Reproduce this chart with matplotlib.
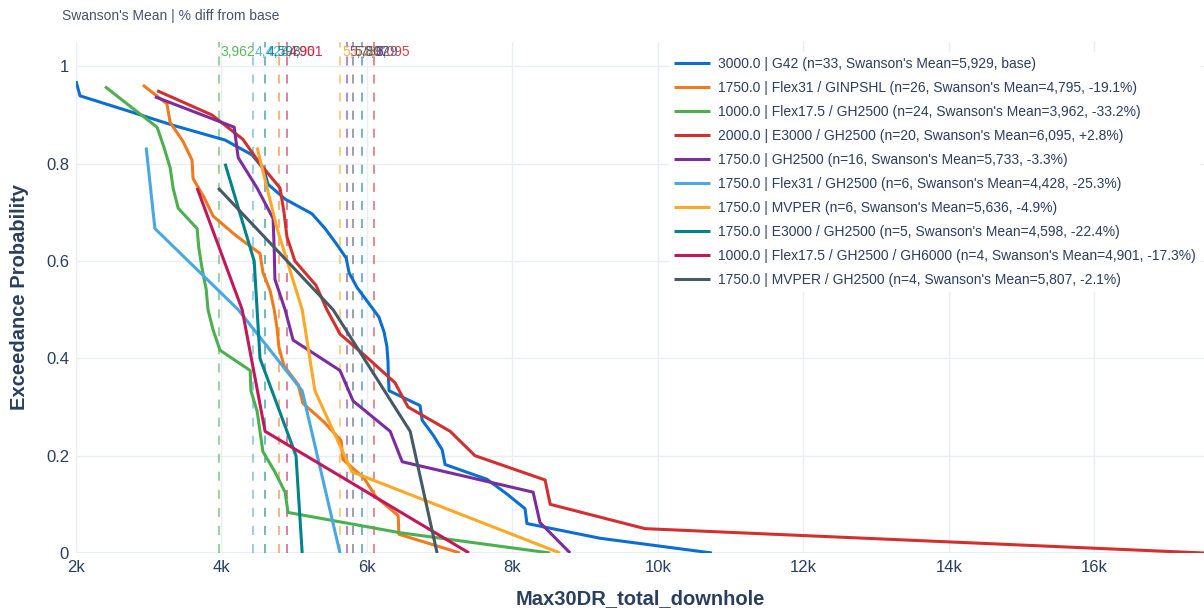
import matplotlib
matplotlib.use("Agg")
import matplotlib.pyplot as plt
from matplotlib.ticker import FixedLocator, FuncFormatter

plt.rcParams['font.family'] = ['Liberation Sans', 'DejaVu Sans']
plt.rcParams['lines.scale_dashes'] = False

# ---- data -------------------------------------------------------------
groups = [
    "3000.0 | G42",
    "1750.0 | Flex31 / GINPSHL",
    "1000.0 | Flex17.5 / GH2500",
    "2000.0 | E3000 / GH2500",
    "1750.0 | GH2500",
    "1750.0 | Flex31 / GH2500",
    "1750.0 | MVPER",
    "1750.0 | E3000 / GH2500",
    "1000.0 | Flex17.5 / GH2500 / GH6000",
    "1750.0 | MVPER / GH2500",
]

swanson_means = [5929, 4795, 3962, 6095, 5733, 4428, 5636, 4598, 4901, 5807]
pct_diff = ["base", "-19.1%", "-33.2%", "+2.8%", "-3.3%", "-25.3%", "-4.9%",
            "-22.4%", "-17.3%", "-2.1%"]

g42 = [2000, 2055, 2700, 3335, 4050, 4420, 4585, 4640, 4875, 5245, 5425,
       5575, 5715, 5755, 5865, 6015, 6165, 6235, 6275, 6290, 6295, 6305,
       6730, 6760, 6910, 7035, 7075, 7650, 7925, 8175, 8200, 9205, 10745]
flex31_ginpshl = [2920, 3250, 3295, 3470, 3595, 3610, 3760, 3885, 4185, 4530,
                  4570, 4670, 4725, 4765, 4790, 4860, 5055, 5120, 5410, 5645,
                  5670, 5960, 6125, 6430, 6440, 7280]
flex175_gh2500 = [2400, 2755, 3115, 3210, 3295, 3335, 3405, 3665, 3690, 3735,
                  3790, 3815, 3885, 3980, 4395, 4405, 4490, 4530, 4570, 4735,
                  4875, 4915, 6455, 8520]
e3000_gh2500_2000 = [3115, 3870, 4295, 4530, 4805, 4860, 4900, 5010, 5300,
                     5450, 5630, 6015, 6385, 6565, 7145, 7485, 8450, 8520,
                     9825, 17510]
gh2500 = [3085, 4175, 4230, 4490, 4710, 4725, 4735, 4875, 4985, 5630, 5810,
          6320, 6485, 8285, 8380, 8795]
flex31_gh2500 = [2965, 3085, 4230, 5110, 5370, 5630]
mvper = [4490, 4765, 5110, 5285, 5795, 8655]
e3000_gh2500_1750 = [4050, 4450, 4530, 5025, 5110]
flex175_gh2500_gh6000 = [3665, 4285, 4600, 7405]
mvper_gh2500 = [3955, 5535, 6595, 6965]

series = [g42, flex31_ginpshl, flex175_gh2500, e3000_gh2500_2000, gh2500,
          flex31_gh2500, mvper, e3000_gh2500_1750, flex175_gh2500_gh6000,
          mvper_gh2500]

colors = ["#0a6fd0", "#f07a1e", "#4caf50", "#d32f2f", "#7b2d9e",
          "#4aa8e0", "#ffa726", "#00838a", "#c2185b", "#455a64"]

x_ticks = [2000, 4000, 6000, 8000, 10000, 12000, 14000, 16000]
y_ticks = [0, 0.2, 0.4, 0.6, 0.8, 1.0]

# ---- figure -----------------------------------------------------------
W, H = 1204, 612
fig = plt.figure(figsize=(W / 100, H / 100), dpi=100)
fig.patch.set_facecolor("white")
ax = fig.add_axes([76 / W, (H - 553) / H, (W - 76) / W, (553 - 42) / H])
ax.set_facecolor("white")

text_col = "#2a3f5f"
title_col = "#44536b"
grid_col = "#e9eef6"

all_vals = [v for s in series for v in s]
ax.set_xlim(min(all_vals), max(all_vals))
ax.set_ylim(0, 1.05)

# exceedance curves
for name, vals, mean, pct, col in zip(groups, series, swanson_means, pct_diff, colors):
    xs = sorted(vals)
    n = len(xs)
    ps = [(n - 1 - i) / n for i in range(n)]
    label = f"{name} (n={n}, Swanson's Mean={mean:,}, {pct})"
    ax.plot(xs, ps, color=col, lw=2.2, label=label, zorder=3,
            solid_joinstyle="round", solid_capstyle="butt")

# Swanson's mean markers
for mean, col in zip(swanson_means, colors):
    ax.plot([mean, mean], [0, 1.05], color=col, lw=1.2, alpha=0.65,
            ls=(0, (6.5, 6.5)), zorder=2)
for mean, col in zip(swanson_means, colors):
    ax.text(mean + 25, 1.03, f"{mean:,}", color=col, alpha=0.9,
            fontsize=10, ha="left", va="center", zorder=4)

# axes styling
ax.xaxis.set_major_locator(FixedLocator(x_ticks))
ax.xaxis.set_major_formatter(FuncFormatter(lambda v, _: f"{int(v / 1000)}k"))
ax.yaxis.set_major_locator(FixedLocator(y_ticks))
ax.yaxis.set_major_formatter(FuncFormatter(lambda v, _: "0" if v == 0 else ("1" if v == 1 else f"{v:.1f}")))
ax.grid(True, color=grid_col, lw=1, zorder=0)
ax.axhline(0, color=grid_col, lw=2, zorder=1)
for s in ax.spines.values():
    s.set_visible(False)
ax.tick_params(axis="both", length=0, labelsize=12, labelcolor=text_col, pad=5)

ax.set_xlabel("Max30DR_total_downhole", fontsize=14.5, fontweight="bold",
              color=text_col, labelpad=10)
ax.set_ylabel("Exceedance Probability", fontsize=14.5, fontweight="bold",
              color=text_col, labelpad=12)

fig.text(62 / W, 1 - 16 / H, "Swanson's Mean | % diff from base", fontsize=10,
         color=title_col, ha="left", va="center")

leg = ax.legend(loc="upper left", bbox_to_anchor=(669 / W, 1 - 52 / H),
                bbox_transform=fig.transFigure, fontsize=10, frameon=True,
                framealpha=1.0, facecolor="white", edgecolor="none",
                handlelength=2.6, handletextpad=0.55, labelspacing=0.72,
                borderpad=0.35, borderaxespad=0, fancybox=False)
for t in leg.get_texts():
    t.set_color(text_col)
for h in leg.get_lines():
    h.set_linewidth(2.2)
leg.set_zorder(5)

fig.savefig("out.png", dpi=100, facecolor="white")
